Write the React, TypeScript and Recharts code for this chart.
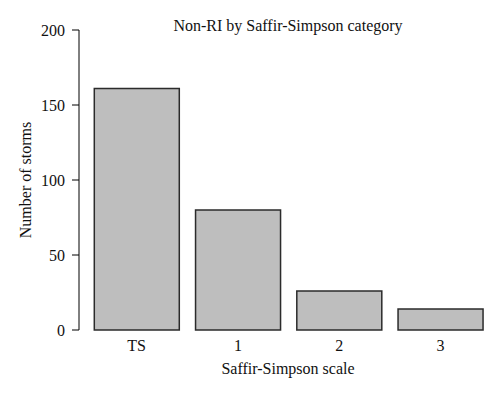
import React from 'react';
import { BarChart, Bar, XAxis, YAxis, Customized } from 'recharts';

const categories = ['TS', '1', '2', '3'];
const stormCounts = [161, 80, 26, 14];
const yTicks = [0, 50, 100, 150, 200];
const titleText = 'Non-RI by Saffir-Simpson category';
const xLabel = 'Saffir-Simpson scale';
const yLabel = 'Number of storms';

const data = categories.map((c, i) => ({ category: c, storms: stormCounts[i] }));

const FONT = '"Liberation Serif", "DejaVu Serif", serif';
const TEXT = '#111';

const Title = () => (
  <text x={288} y={31} textAnchor="middle" fill={TEXT} fontSize={16} fontFamily={FONT}>
    {titleText}
  </text>
);

export default function App() {
  return (
    <div style={{ position: 'absolute', left: 0, top: 0, background: '#fff' }}>
      <BarChart
        width={500}
        height={398}
        data={data}
        margin={{ top: 30, right: 9, bottom: 38, left: 0 }}
        barCategoryGap={8.3}
      >
        <XAxis
          dataKey="category"
          axisLine={false}
          tickLine={false}
          tickSize={0}
          tickMargin={10}
          padding={{ left: 7, right: 0 }}
          height={30}
          tick={{ fill: TEXT, fontSize: 16, fontFamily: FONT }}
          label={{ value: xLabel, position: 'bottom', offset: 3, dx: 3, fill: TEXT, fontSize: 16, fontFamily: FONT }}
        />
        <YAxis
          width={79}
          domain={[0, 200]}
          ticks={yTicks}
          interval={0}
          tickSize={7}
          tickMargin={7}
          axisLine={{ stroke: '#000', strokeWidth: 1 }}
          tickLine={{ stroke: '#000', strokeWidth: 1 }}
          tick={{ fill: TEXT, fontSize: 16, fontFamily: FONT }}
          label={{ value: yLabel, angle: -90, position: 'insideLeft', offset: 25, fill: TEXT, fontSize: 16, fontFamily: FONT, style: { textAnchor: 'middle' } }}
        />
        <Bar dataKey="storms" fill="#bebebe" stroke="#2b2b2b" strokeWidth={1.5} isAnimationActive={false} />
        <Customized component={Title} />
      </BarChart>
    </div>
  );
}
